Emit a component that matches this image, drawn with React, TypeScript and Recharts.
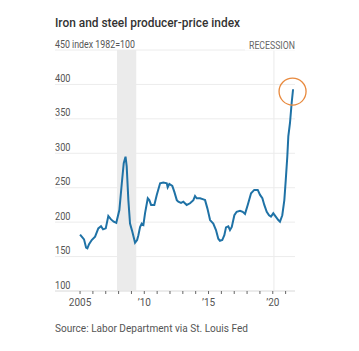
import {
  LineChart,
  Line,
  XAxis,
  YAxis,
  CartesianGrid,
  ReferenceArea,
  ReferenceDot,
} from "recharts";

// fractional year of each reading
const dates = [
  2005.0, 2005.18, 2005.31, 2005.47, 2005.57, 2005.7, 2005.91, 2006.17, 2006.42,
  2006.63, 2006.79, 2007.0, 2007.2, 2007.41, 2007.62, 2007.82, 2008.06, 2008.25,
  2008.4, 2008.54, 2008.63, 2008.76, 2008.89, 2009.07, 2009.28, 2009.44, 2009.54,
  2009.67, 2009.8, 2009.93, 2010.06, 2010.27, 2010.39, 2010.53, 2010.78, 2010.97,
  2011.23, 2011.48, 2011.75, 2011.82, 2011.95, 2012.18, 2012.34, 2012.53, 2012.65,
  2012.86, 2013.04, 2013.3, 2013.56, 2013.82, 2013.95, 2014.08, 2014.34, 2014.6,
  2014.73, 2014.91, 2015.12, 2015.37, 2015.58, 2015.76, 2015.89, 2016.07, 2016.23,
  2016.36, 2016.54, 2016.67, 2016.81, 2017.01, 2017.19, 2017.45, 2017.66, 2017.84,
  2018.05, 2018.31, 2018.56, 2018.83, 2019.01, 2019.19, 2019.34, 2019.53, 2019.71,
  2019.86, 2020.04, 2020.23, 2020.43, 2020.56, 2020.74, 2020.9, 2021.01, 2021.13,
  2021.21, 2021.34, 2021.47, 2021.58,
];

const ppi = [
  182, 178, 175, 163, 162, 168, 174, 179, 191,
  194, 189.5, 191, 209, 204, 200.6, 199, 217.6, 256.5,
  285.7, 295, 281, 232, 198, 186, 170, 174, 181,
  193, 198, 196, 213, 234.7, 232, 225, 225, 239.5,
  256.5, 257.5, 256.5, 250.7, 255.5, 252.6, 244, 232, 229.7,
  228, 229.7, 225, 227.4, 232, 238, 234.7, 234.7, 233,
  232, 220, 203, 198, 188.5, 176, 173, 174, 181,
  192.4, 194, 188.5, 193, 210, 215, 216.6, 215, 212,
  225, 242, 246.8, 246.8, 239.5, 234.7, 225, 215, 210,
  208, 212.8, 208, 203, 200.6, 210, 232, 261, 295,
  324.5, 344, 373, 393,
];

const yTicks = [100, 150, 200, 250, 300, 350, 400, 450];
const xTicks = [
  2005, 2006, 2007, 2008, 2009, 2010, 2011, 2012, 2013, 2014, 2015, 2016, 2017,
  2018, 2019, 2020, 2021,
];
const xLabels: Record<number, string> = {
  2005: "2005",
  2010: "\u201910",
  2015: "\u201915",
  2020: "\u201920",
};

// recessions: Dec 2007 - Jun 2009, Feb - Apr 2020
const recessions = [
  [2007.875, 2009.375],
  [2020.05, 2020.13],
];

const data = dates.map((d, i) => ({ date: d, value: ppi[i] }));

const FONT = "Roboto, 'DejaVu Sans', sans-serif";
const BLUE = "#1f72a6";
const GRAY = "#555";

const renderYTick = (props: any) => {
  const { y, payload } = props;
  const isTop = payload.value === 450;
  return (
    <text
      x={55}
      y={y - 2.5}
      fill={GRAY}
      fontSize={10}
      fontFamily={FONT}
      textAnchor="start"
      textLength={isTop ? 80 : 15.5}
      lengthAdjust="spacingAndGlyphs"
    >
      {isTop ? "450 index 1982=100" : String(payload.value)}
    </text>
  );
};

const renderXTick = (props: any) => {
  const { x, y, payload } = props;
  const label = xLabels[payload.value];
  if (!label) return <g />;
  return (
    <text
      x={x}
      y={y + 10}
      fill={GRAY}
      fontSize={10}
      fontFamily={FONT}
      textAnchor="middle"
    >
      {label}
    </text>
  );
};

export default function App() {
  return (
    <div
      style={{
        position: "absolute",
        left: 0,
        top: 0,
        width: 359,
        height: 351,
        background: "#fff",
      }}
    >
      <LineChart
        width={359}
        height={351}
        data={data}
        margin={{ top: 50, right: 64, left: 45, bottom: 40 }}
      >
        {recessions.map(([a, b], i) => (
          <ReferenceArea
            key={i}
            x1={a}
            x2={b}
            y1={100}
            y2={450}
            fill="#ebebeb"
            fillOpacity={1}
            stroke="none"
            ifOverflow="hidden"
          />
        ))}
        <CartesianGrid vertical={false} stroke="#ececec" strokeWidth={1} />
        <XAxis
          dataKey="date"
          type="number"
          domain={[2003.05, 2021.73]}
          ticks={xTicks}
          interval={0}
          height={20}
          tickSize={3}
          tickMargin={2}
          tickLine={{ stroke: "#666" }}
          axisLine={{ stroke: "#e2e2e2" }}
          tick={renderXTick}
        />
        <YAxis
          type="number"
          domain={[100, 450]}
          ticks={yTicks}
          interval={0}
          width={10}
          axisLine={false}
          tickLine={false}
          tick={renderYTick}
        />
        <Line
          type="linear"
          dataKey="value"
          stroke={BLUE}
          strokeWidth={2}
          dot={false}
          isAnimationActive={false}
        />
        <ReferenceDot
          x={2021.54}
          y={389.6}
          r={13.5}
          fill="none"
          stroke="#e8893d"
          strokeWidth={1.3}
          ifOverflow="visible"
        />
      </LineChart>
      <svg
        width={359}
        height={351}
        style={{ position: "absolute", left: 0, top: 0, pointerEvents: "none" }}
      >
        <text
          x={55}
          y={27}
          fontFamily={FONT}
          fontSize={13}
          fontWeight={500}
          fill="#333"
          textLength={185}
          lengthAdjust="spacingAndGlyphs"
        >
          Iron and steel producer-price index
        </text>
        <rect x={245} y={38} width={55} height={12.5} fill="#fff" />
        <text
          x={249}
          y={48.5}
          fontFamily={FONT}
          fontSize={10}
          fill="#666"
          textLength={46}
          lengthAdjust="spacingAndGlyphs"
        >
          RECESSION
        </text>
        <text
          x={55}
          y={332}
          fontFamily={FONT}
          fontSize={10.5}
          fill={GRAY}
          textLength={193}
          lengthAdjust="spacingAndGlyphs"
        >
          Source: Labor Department via St. Louis Fed
        </text>
      </svg>
    </div>
  );
}
